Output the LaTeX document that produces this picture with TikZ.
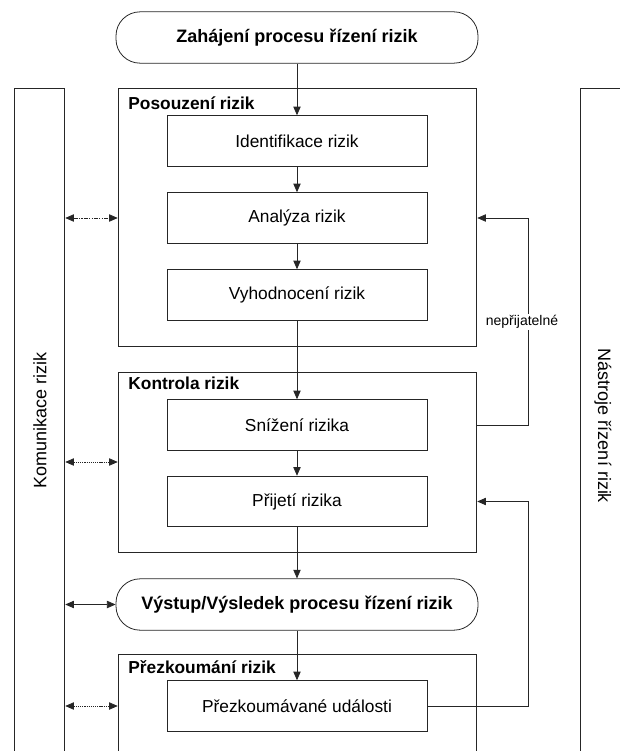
\documentclass[tikz,border=0pt]{standalone}
\usepackage{fontspec}
\setmainfont{Liberation Sans}
\usetikzlibrary{arrows.meta}

\begin{document}
\begin{tikzpicture}[x=0.75pt, y=-0.75pt, line width=0.6pt, draw=black!85,
    >={Triangle[length=6.5pt,width=5.5pt]},
    stepbox/.style={draw, minimum width=195pt, minimum height=38pt, font=\fontsize{13}{15}\selectfont},
    groupbox/.style={draw, minimum width=269pt},
    terminal/.style={draw, rounded corners=18pt, minimum width=271.5pt, minimum height=38.5pt, font=\bfseries\fontsize{13.5}{16}\selectfont},
    grouptitle/.style={anchor=base west, inner sep=0pt, font=\bfseries\fontsize{13}{15}\selectfont},
    sidecol/.style={draw, minimum height=534pt},
    sidetext/.style={font=\fontsize{13.5}{16}\selectfont},
    dashdotdot/.style={dash pattern=on 3pt off 1pt on 0.8pt off 1pt on 0.8pt off 1pt},
    dotline/.style={dash pattern=on 0.9pt off 0.7pt}]
    \clip (0,0) rectangle (620,751);

    % Side columns (cut off at the bottom of the picture)
    \node[sidecol, minimum width=38pt] (komunikace) at (39.5,444) {};
    \node[sidecol, minimum width=60pt] (nastroje) at (620,444) {};
    \node[sidetext, rotate=90] at (40,420) {Komunikace rizik};
    \node[sidetext, rotate=-90] at (603,426) {Nástroje řízení rizik};

    % Start
    \node[terminal] (start) at (297,37.5) {Zahájení procesu řízení rizik};

    % Posouzeni rizik
    \node[groupbox, minimum height=194pt] (posouzeni) at (297.5,217.5) {};
    \node[grouptitle] at (128,109) {Posouzení rizik};
    \node[stepbox] (ident) at (297,141) {Identifikace rizik};
    \node[stepbox] (analyza) at (297,218) {Analýza rizik};
    \node[stepbox] (vyhodnoceni) at (297,295) {Vyhodnocení rizik};

    % Kontrola rizik
    \node[groupbox, minimum height=135pt] (kontrola) at (297.5,462) {};
    \node[grouptitle] at (128,389) {Kontrola rizik};
    \node[stepbox] (snizeni) at (297,425) {Snížení rizika};
    \node[stepbox] (prijeti) at (297,501.5) {Přijetí rizika};

    % Vystup
    \node[terminal] (vystup) at (297,604.5) {Výstup/Výsledek procesu řízení rizik};

    % Prezkoumani rizik (cut off at the bottom)
    \node[groupbox, minimum height=109pt] (prezkoumani) at (297.5,727.5) {};
    \node[grouptitle] at (128,673) {Přezkoumání rizik};
    \node[stepbox] (udalosti) at (297,706) {Přezkoumávané události};

    % Main flow
    \draw[->] (start) -- (ident);
    \foreach \a/\b in {ident/analyza, analyza/vyhodnoceni, vyhodnoceni/snizeni,
                       snizeni/prijeti, prijeti/vystup, vystup/udalosti} {
      \draw[->] (\a) -- (\b);
    }

    % Feedback loops
    \coordinate (zpet1) at (528,218);
    \coordinate (zpet2) at (528,501.5);
    \draw[->] (kontrola.east |- snizeni) -| (zpet1) -- (posouzeni.east |- zpet1);
    \node[fill=white, inner sep=1pt, font=\fontsize{10.5}{12}\selectfont] (neprijatelne) at (522,322) {nepřijatelné};
    \draw[->] (udalosti.east) -| (zpet2) -- (kontrola.east |- zpet2);

    % Communication arrows
    \draw[<->, dashdotdot] (komunikace.east |- analyza) -- (posouzeni.west |- analyza);
    \draw[<->, dotline] (komunikace.east |- kontrola) -- (kontrola.west);
    \draw[<->] (komunikace.east |- vystup) -- (vystup.west);
    \draw[<->, dotline] (komunikace.east |- udalosti) -- (prezkoumani.west |- udalosti);
\end{tikzpicture}
\end{document}
